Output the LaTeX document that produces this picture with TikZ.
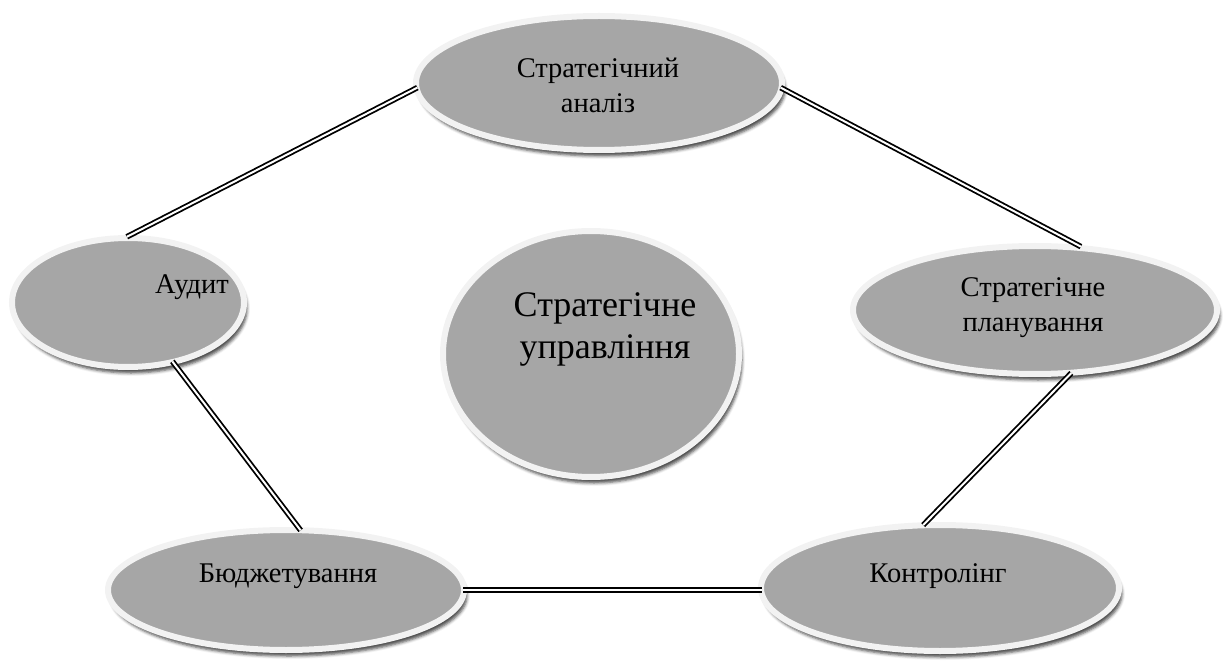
\documentclass[tikz,border=0pt]{standalone}
\usepackage{fontspec}
\setmainfont{Liberation Serif}
\usetikzlibrary{shapes.geometric,shadows.blur}

\definecolor{bubblefill}{HTML}{A6A6A6}
\definecolor{bubblering}{HTML}{F2F2F2}

\tikzset{
  bubble/.style={ellipse, fill=bubblefill, draw=bubblering, line width=6pt,
    inner sep=0pt,
    blur shadow={shadow xshift=3pt, shadow yshift=-6pt,
      shadow blur radius=3pt, shadow opacity=70}},
  caption/.style={font=\fontsize{28.5}{35}\selectfont, align=center,
    inner sep=0pt, anchor=base},
  bigcaption/.style={font=\fontsize{36}{41}\selectfont, align=center,
    inner sep=0pt, anchor=base},
  link/.style={double=white, draw=black, line width=1.8pt,
    double distance=2pt, shorten <=-4pt, shorten >=-4pt}
}

\begin{document}
\begin{tikzpicture}[x=1pt, y=-1pt]
  \useasboundingbox (0,0) rectangle (1229,668);

  % ellipses (outer size = ring included)
  \node[bubble, minimum width=366pt, minimum height=134pt] (sa)  at (599,83)    {};
  \node[bubble, minimum width=232pt, minimum height=129pt] (aud) at (128,302.5) {};
  \node[bubble, minimum width=296pt, minimum height=246pt] (sm)  at (591,354)   {};
  \node[bubble, minimum width=364pt, minimum height=128pt] (sp)  at (1035,310)  {};
  \node[bubble, minimum width=356pt, minimum height=120pt] (bud) at (286,590)   {};
  \node[bubble, minimum width=358pt, minimum height=126pt] (ctl) at (940,588)   {};

  % captions (base anchor = baseline of the last line)
  \node[caption]    (sa-t)  at (598,113)  {Стратегічний\\аналіз};
  \node[caption]    (aud-t) at (192,294)  {Аудит};
  \node[bigcaption] (sm-t)  at (605,358)  {Стратегічне\\управління};
  \node[caption]    (sp-t)  at (1033,331) {Стратегічне\\планування};
  \node[caption]    (bud-t) at (288,582)  {Бюджетування};
  \node[caption]    (ctl-t) at (938,582)  {Контролінг};

  % double connectors around the cycle
  \draw[link] (sa.182) -- (aud.88);
  \draw[link] (sa.-2)  -- (sp.57);
  \draw[link] (aud.-53) -- (bud.79);
  \draw[link] (sp.-63) -- (ctl.102);
  \draw[link] (bud.east) -- (bud.east -| ctl.west);
\end{tikzpicture}
\end{document}
